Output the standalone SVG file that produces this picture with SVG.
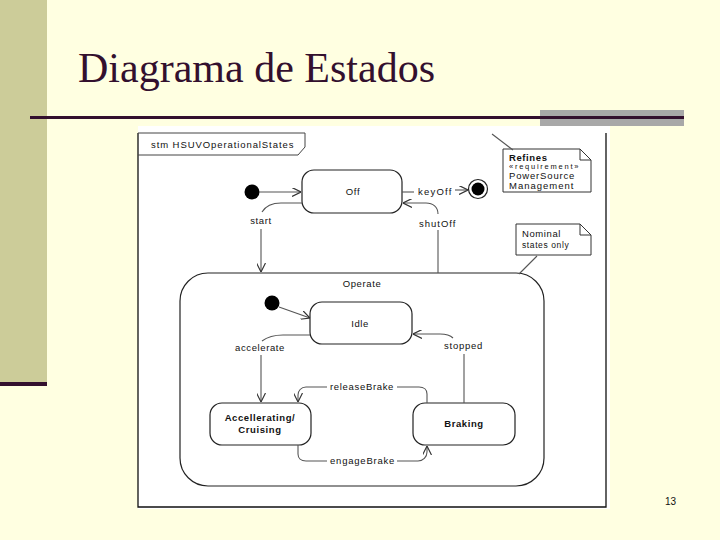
<svg xmlns="http://www.w3.org/2000/svg" width="720" height="540" viewBox="0 0 720 540">
<defs>
<marker id="arr" viewBox="0 0 10 10" refX="10" refY="5" markerWidth="9" markerHeight="9" markerUnits="userSpaceOnUse" orient="auto">
<path d="M0,0 L10,5 L0,10" fill="none" stroke="#333" stroke-width="1.3"/>
</marker>
</defs>
<style>
.st{fill:#fff;stroke:#222;stroke-width:1.2}
.cn{fill:none;stroke:#555;stroke-width:1.1}
.t{font-family:"Liberation Sans",Arial,sans-serif;font-size:9.5px;fill:#111;letter-spacing:0.6px}
.b{font-weight:bold}
.m{text-anchor:middle}
.note{fill:#fff;stroke:#333;stroke-width:1}
</style>
<rect x="0" y="0" width="720" height="540" fill="#FFFFE1"/>
<rect x="0" y="0" width="47" height="384" fill="#CCCC99"/>
<rect x="0" y="382" width="47" height="4" fill="#33102E"/>
<text x="78" y="82" font-family="'Liberation Serif','Times New Roman',serif" font-size="42" fill="#33102E" textLength="357">Diagrama de Estados</text>
<rect x="540" y="110" width="144" height="16" fill="#A8A8A8"/>
<rect x="30" y="116" width="654" height="3" fill="#33102E"/>
<rect x="138" y="126" width="472" height="383" fill="#fff"/>
<g id="frame">
<path d="M138,133 V507 H606 V133" fill="none" stroke="#111" stroke-width="1.3"/>
<path d="M138,133 H305 V147 L298,155 H138" fill="none" stroke="#444" stroke-width="1"/>
<text class="t" x="151" y="148" textLength="143">stm HSUVOperationalStates</text>
</g>
<g id="operate">
<rect class="st" x="180" y="273" width="364" height="213" rx="28" ry="28"/>
<text class="t m" x="362" y="287">Operate</text>
</g>
<g id="init1"><circle cx="252" cy="192" r="7.5" fill="#000"/></g>
<g id="off">
<rect class="st" x="302" y="170" width="100" height="43" rx="12" ry="12"/>
<text class="t m" x="353" y="195">Off</text>
</g>
<g id="final">
<circle cx="478" cy="189" r="9.5" fill="#fff" stroke="#222" stroke-width="1.2"/>
<circle cx="478" cy="189" r="6.5" fill="#000"/>
</g>
<g id="init2"><circle cx="272" cy="303" r="7.5" fill="#000"/></g>
<g id="idle">
<rect class="st" x="310" y="302" width="102" height="42" rx="12" ry="12"/>
<text class="t m" x="360" y="327">Idle</text>
</g>
<g id="accel">
<rect class="st" x="210" y="403" width="101" height="42" rx="12" ry="12"/>
<text class="t m b" x="260" y="421">Accellerating/</text>
<text class="t m b" x="260" y="433">Cruising</text>
</g>
<g id="braking">
<rect class="st" x="413" y="403" width="102" height="42" rx="12" ry="12"/>
<text class="t m b" x="464" y="427">Braking</text>
</g>
<g id="note1">
<path class="note" d="M503,149 H580 L591,160 V192 H503 Z"/>
<path d="M580,149 V160 H591" fill="none" stroke="#333" stroke-width="1"/>
<text class="t b" x="509" y="161">Refines</text>
<text class="t" x="509" y="169" style="font-size:7.5px" textLength="70">«requirement»</text>
<text class="t" x="509" y="179" textLength="66">PowerSource</text>
<text class="t" x="509" y="189" textLength="65">Management</text>
</g>
<g id="note2">
<path class="note" d="M516,224 H580 L591,235 V255 H516 Z"/>
<path d="M580,224 V235 H591" fill="none" stroke="#333" stroke-width="1"/>
<text class="t" x="522" y="237">Nominal</text>
<text class="t" x="522" y="248" style="font-size:8.5px">states only</text>
</g>
<g id="connectors">
<line class="cn" x1="259" y1="192" x2="301" y2="192" marker-end="url(#arr)"/>
<line class="cn" x1="402" y1="192" x2="414" y2="192"/>
<line class="cn" x1="455" y1="190" x2="468" y2="190" marker-end="url(#arr)"/>
<path class="cn" d="M438,273 V230 M438,214 C438,207 433,203 426,203 H403" marker-end="url(#arr)"/>
<path class="cn" d="M302,203 H281 C271,203 265,207 262,212 M261,229 V272" marker-end="url(#arr)"/>
<line class="cn" x1="279" y1="307" x2="310" y2="318" marker-end="url(#arr)"/>
<path class="cn" d="M310,335 H283 C273,335 266,338 262,341 M261,355 V402" marker-end="url(#arr)"/>
<path class="cn" d="M464,403 V354 M453,338 C450,335 446,334 440,334 H413" marker-end="url(#arr)"/>
<path class="cn" d="M427,403 V394 C427,390 424,387 419,387 H397 M327,387 H306 C301,387 298,391 298,395 V402" marker-end="url(#arr)"/>
<path class="cn" d="M298,445 V454 C298,458 301,461 306,461 H327 M397,461 H418 C423,461 427,457 427,452 V446" marker-end="url(#arr)"/>
<line class="cn" x1="492" y1="134" x2="513" y2="150"/>
<line class="cn" x1="537" y1="256" x2="519" y2="274"/>
<text class="t" x="418" y="195" textLength="34">keyOff</text>
<text class="t m" x="261" y="224">start</text>
<text class="t" x="419" y="227" textLength="37">shutOff</text>
<text class="t m" x="260" y="351" textLength="50">accelerate</text>
<text class="t" x="444" y="349" textLength="39">stopped</text>
<text class="t" x="330" y="390" textLength="64">releaseBrake</text>
<text class="t" x="330" y="464" textLength="65">engageBrake</text>
</g>
<text x="665" y="505" font-family="'Liberation Sans',Arial,sans-serif" font-size="10" fill="#111">13</text>
</svg>
